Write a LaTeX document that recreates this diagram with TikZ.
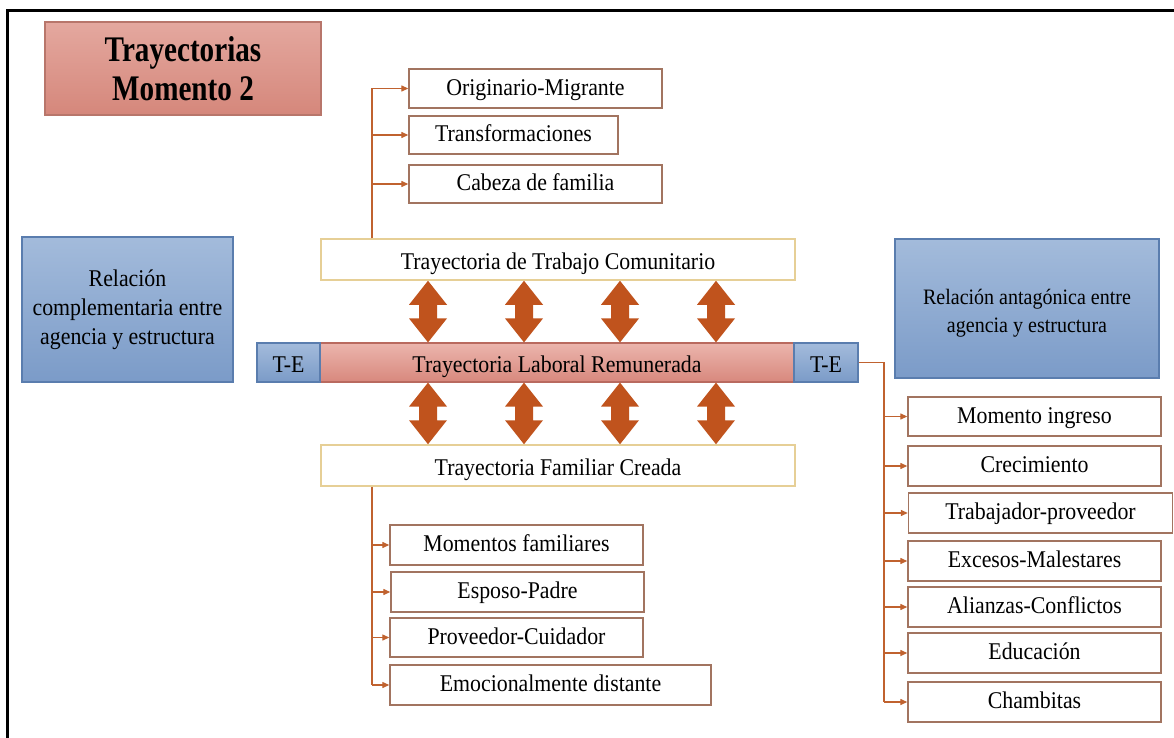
\documentclass[tikz,border=0pt]{standalone}
\usepackage{fontspec}
\setmainfont{Liberation Serif}[FakeStretch=0.91]
\newfontfamily\headfont{Liberation Serif}[FakeStretch=0.81]
\usetikzlibrary{arrows.meta,calc}

\definecolor{titletop}{HTML}{E4A89F}
\definecolor{titlebot}{HTML}{D5877B}
\definecolor{titleline}{HTML}{B8766B}
\definecolor{bluetop}{HTML}{A3BBDB}
\definecolor{bluebot}{HTML}{7B9BC8}
\definecolor{blueline}{HTML}{5A7DAE}
\definecolor{bartop}{HTML}{EBB5AD}
\definecolor{barbot}{HTML}{D8887D}
\definecolor{barline}{HTML}{B96A5F}
\definecolor{goldline}{HTML}{E6CF96}
\definecolor{boxline}{HTML}{A27460}
\definecolor{conncol}{HTML}{C0622F}
\definecolor{arrcol}{HTML}{C0531D}

% filled up-down arrow between two points (top point, bottom point)
\newcommand\udarrow[2]{%
  \fill[arrcol] (#1) -- ($(#1)+(19,24)$) -- ($(#1)+(9,24)$) -- ($(#2)+(9,-24)$)
    -- ($(#2)+(19,-24)$) -- (#2) -- ($(#2)+(-19,-24)$) -- ($(#2)+(-9,-24)$)
    -- ($(#1)+(-9,24)$) -- ($(#1)+(-19,24)$) -- cycle;}

\begin{document}
\begin{tikzpicture}[x=1pt,y=-1pt,
  body/.style={font=\fontsize{24}{29}\selectfont, text=black, inner sep=0pt, align=center},
  oneline/.style={text height=19pt, text depth=0pt},
  itemline/.style={text height=14pt, text depth=0.8pt},
  titlebox/.style={draw=titleline, line width=1.2pt, top color=titletop, bottom color=titlebot,
    inner sep=0pt, align=center, font=\headfont\bfseries\fontsize{36}{39}\selectfont},
  bluebox/.style={body, draw=blueline, line width=1.2pt, top color=bluetop, bottom color=bluebot},
  barbox/.style={body, oneline, draw=barline, line width=1.2pt, top color=bartop, bottom color=barbot},
  trbox/.style={body, oneline, draw=goldline, line width=1.5pt, fill=white},
  itembox/.style={body, itemline, draw=boxline, line width=1.4pt, fill=white},
  conn/.style={draw=conncol, line width=1.3pt},
  connarr/.style={conn, -{Triangle[length=7pt,width=6pt]}}
]
\useasboundingbox (0,0) rectangle (1174,738);
\fill[white] (0,0) rectangle (1174,738);

% frame
\draw[line width=3pt] (1174,11) -- (7,11) -- (7,738);

% title
\node[titlebox, minimum width=276pt, minimum height=93pt] (title) at (183,68.5)
  {Trayectorias\\Momento 2};

% side relation boxes
\node[bluebox, minimum width=211pt, minimum height=145pt] (rcomp) at (127.5,309.5)
  {Relación\\complementaria entre\\agencia y estructura};
\node[bluebox, font=\fontsize{22}{28}\selectfont, minimum width=264pt, minimum height=139pt,
  text height=52pt, text depth=4.8pt] (rant) at (1027,308.5)
  {Relación antagónica entre\\agencia y estructura};

% central trajectories
\node[trbox, minimum width=474pt, minimum height=41pt] (tc) at (558,259.5)
  {Trayectoria de Trabajo Comunitario};
\node[barbox, minimum width=474pt, minimum height=39pt] (lab) at (557,362.5)
  {Trayectoria Laboral Remunerada};
\node[bluebox, oneline, minimum width=63pt, minimum height=39pt] (te1) at (288.5,362.5) {T-E};
\node[bluebox, oneline, minimum width=64pt, minimum height=39pt] (te2) at (826,362.5) {T-E};
\node[trbox, minimum width=474pt, minimum height=41pt] (fc) at (558,465.5)
  {Trayectoria Familiar Creada};

% interaction arrows
\foreach \i/\x in {1/428,2/524,3/620,4/716}{
  \coordinate (ax\i) at (\x,0);
  \udarrow{tc.south -| ax\i}{lab.north -| ax\i}
  \udarrow{lab.south -| ax\i}{fc.north -| ax\i}
}

% community branch
\node[itembox, minimum width=253pt, minimum height=39pt] (om) at (535.5,88.5) {Originario-Migrante};
\node[itembox, minimum width=209pt, minimum height=38pt] (tf) at (513.5,135) {Transformaciones};
\node[itembox, minimum width=253pt, minimum height=38pt] (cf) at (535.5,184) {Cabeza de familia};
\coordinate (trunkA) at (372,0);
\draw[conn] (trunkA |- tc.north) -- (trunkA |- om.west);
\foreach \n in {om,tf,cf} \draw[connarr] (trunkA |- \n.west) -- (\n.west);

% family branch
\node[itembox, minimum width=253pt, minimum height=40pt] (mf) at (516.5,545) {Momentos familiares};
\node[itembox, minimum width=253pt, minimum height=40pt] (ep) at (517.5,592) {Esposo-Padre};
\node[itembox, minimum width=253pt, minimum height=39pt] (pc) at (516.5,637.5) {Proveedor-Cuidador};
\node[itembox, minimum width=321pt, minimum height=40pt] (ed) at (550.5,685) {Emocionalmente distante};
\coordinate (trunkB) at (372,0);
\draw[conn] (trunkB |- fc.south) -- (trunkB |- ed.west);
\foreach \n in {mf,ep,pc,ed} \draw[connarr] (trunkB |- \n.west) -- (\n.west);

% labour branch
\node[itembox, minimum width=253pt, minimum height=39pt] (mi) at (1034.5,416.5) {Momento ingreso};
\node[itembox, minimum width=253pt, minimum height=40pt] (cr) at (1034.5,466) {Crecimiento};
\node[itembox, minimum width=264pt, minimum height=40pt] (tp) at (1040.5,513) {Trabajador-proveedor};
\node[itembox, minimum width=253pt, minimum height=40pt] (ex) at (1034.5,561) {Excesos-Malestares};
\node[itembox, minimum width=253pt, minimum height=40pt] (ac) at (1034.5,607) {Alianzas-Conflictos};
\node[itembox, minimum width=253pt, minimum height=40pt] (edu) at (1034.5,653) {Educación};
\node[itembox, minimum width=253pt, minimum height=40pt] (ch) at (1034.5,702) {Chambitas};
\coordinate (trunkC) at (884,0);
\draw[conn] (te2.east) -- (trunkC |- te2.east) -- (trunkC |- ch.west);
\foreach \n in {mi,cr,tp,ex,ac,edu,ch} \draw[connarr] (trunkC |- \n.west) -- (\n.west);

\end{tikzpicture}
\end{document}
